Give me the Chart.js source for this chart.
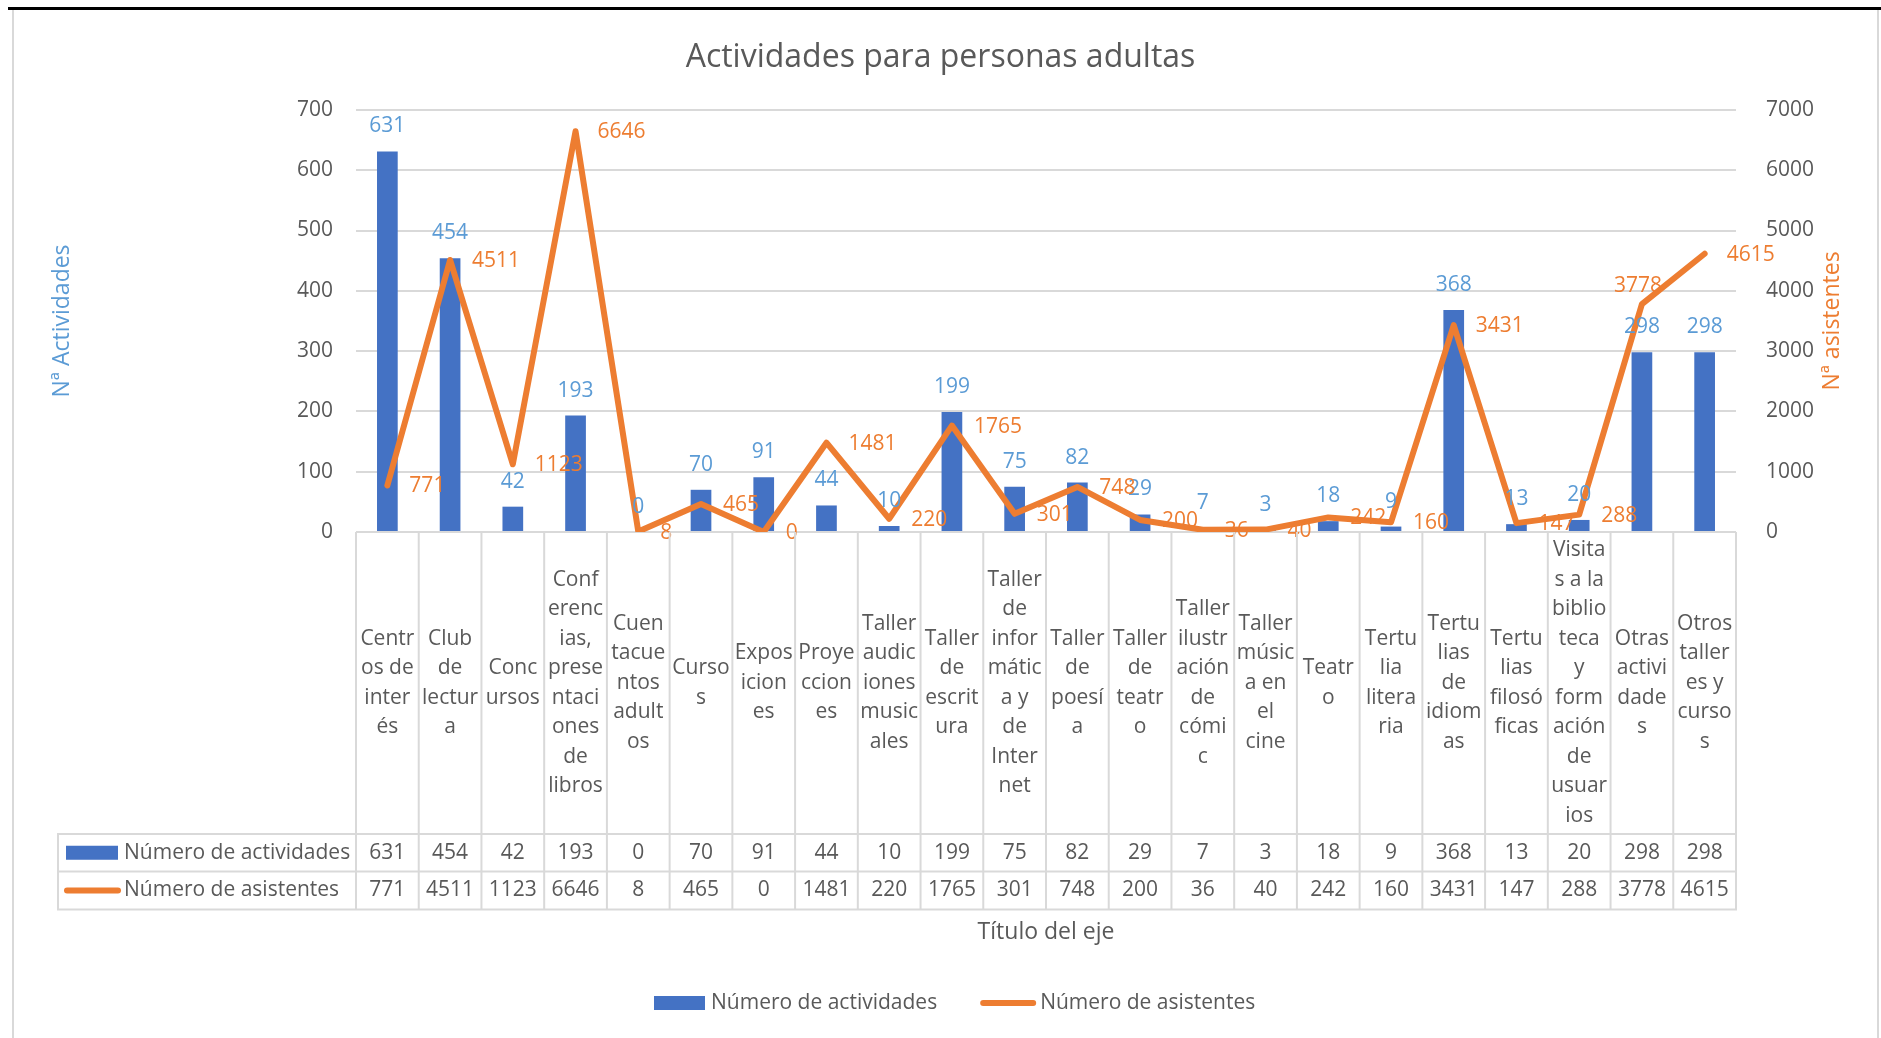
<!DOCTYPE html>
<html lang="es">
<head>
<meta charset="utf-8">
<title>Actividades para personas adultas</title>
<script src="https://cdn.jsdelivr.net/npm/chart.js@4.4.1/dist/chart.umd.min.js"></script>
<style>
  html, body { margin: 0; padding: 0; background: #fff; }
  #wrap { position: relative; width: 1881px; height: 1038px; }
</style>
</head>
<body>
<div id="wrap"><canvas id="chart"></canvas></div>
<script>
// Categories as wrapped in the data table of the original
const categoryLines = [
  ['Centr', 'os de', 'inter', 'és'],
  ['Club', 'de', 'lectur', 'a'],
  ['Conc', 'ursos'],
  ['Conf', 'erenc', 'ias,', 'prese', 'ntaci', 'ones', 'de', 'libros'],
  ['Cuen', 'tacue', 'ntos', 'adult', 'os'],
  ['Curso', 's'],
  ['Expos', 'icion', 'es'],
  ['Proye', 'ccion', 'es'],
  ['Taller', 'audic', 'iones', 'music', 'ales'],
  ['Taller', 'de', 'escrit', 'ura'],
  ['Taller', 'de', 'infor', 'mátic', 'a y', 'de', 'Inter', 'net'],
  ['Taller', 'de', 'poesí', 'a'],
  ['Taller', 'de', 'teatr', 'o'],
  ['Taller', 'ilustr', 'ación', 'de', 'cómi', 'c'],
  ['Taller', 'músic', 'a en', 'el', 'cine'],
  ['Teatr', 'o'],
  ['Tertu', 'lia', 'litera', 'ria'],
  ['Tertu', 'lias', 'de', 'idiom', 'as'],
  ['Tertu', 'lias', 'filosó', 'ficas'],
  ['Visita', 's a la', 'biblio', 'teca', 'y', 'form', 'ación', 'de', 'usuar', 'ios'],
  ['Otras', 'activi', 'dade', 's'],
  ['Otros', 'taller', 'es y', 'curso', 's']
];

const seriesNames = ['Número de actividades', 'Número de asistentes'];

const actividades = [631, 454, 42, 193, 0, 70, 91, 44, 10, 199, 75, 82, 29, 7, 3, 18, 9, 368, 13, 20, 298, 298];
const asistentes = [771, 4511, 1123, 6646, 8, 465, 0, 1481, 220, 1765, 301, 748, 200, 36, 40, 242, 160, 3431, 147, 288, 3778, 4615];

const leftTicks = [0, 100, 200, 300, 400, 500, 600, 700];
const rightTicks = [0, 1000, 2000, 3000, 4000, 5000, 6000, 7000];

const FONT = '"Open Sans", sans-serif';
const TEXT = '#595959';
const GRID = '#D9D9D9';
const BLUE = '#4472C4';
const BLUE_LABEL = '#5B9BD5';
const ORANGE = '#ED7D31';

// Excel moved this one label above the point instead of to the right
const lineLabelMoved = { 20: { dx: -4, dy: -18 } };

const framePlugin = {
  id: 'frame',
  beforeDraw(chart) {
    const { ctx, width, height } = chart;
    ctx.save();
    ctx.fillStyle = '#fff';
    ctx.fillRect(0, 0, width, height);
    ctx.fillStyle = '#000';
    ctx.fillRect(8, 7, width - 8, 3);
    ctx.fillStyle = GRID;
    ctx.fillRect(12, 10, 2, height - 10);
    ctx.fillRect(1877, 10, 2, height - 10);
    ctx.restore();
  }
};

const labelsPlugin = {
  id: 'valueLabels',
  afterDatasetsDraw(chart) {
    const { ctx } = chart;
    ctx.save();
    ctx.font = '21px ' + FONT;
    ctx.textBaseline = 'middle';

    ctx.fillStyle = BLUE_LABEL;
    ctx.textAlign = 'center';
    chart.getDatasetMeta(0).data.forEach((bar, i) => {
      ctx.fillText(String(chart.data.datasets[0].data[i]), bar.x, bar.y - 25);
    });

    ctx.fillStyle = ORANGE;
    chart.getDatasetMeta(1).data.forEach((pt, i) => {
      const txt = String(chart.data.datasets[1].data[i]);
      const moved = lineLabelMoved[i];
      if (moved) {
        ctx.textAlign = 'center';
        ctx.fillText(txt, pt.x + moved.dx, pt.y + moved.dy);
      } else {
        ctx.textAlign = 'left';
        ctx.fillText(txt, pt.x + 22, pt.y + 1);
      }
    });
    ctx.restore();
  }
};

const tablePlugin = {
  id: 'dataTable',
  afterDraw(chart) {
    const { ctx, chartArea } = chart;
    const x = chart.scales.x;
    const n = chart.data.labels.length;
    const step = x.getPixelForValue(1) - x.getPixelForValue(0);
    const colLeft = x.getPixelForValue(0) - step / 2;
    const colRight = x.getPixelForValue(n - 1) + step / 2;
    const top = chartArea.bottom;
    const catBottom = top + 302;
    const r1 = catBottom + 37.5;
    const r2 = r1 + 38;
    const tableLeft = 58;

    ctx.save();
    ctx.strokeStyle = GRID;
    ctx.lineWidth = 2;
    ctx.beginPath();
    for (let i = 0; i <= n; i++) {
      const xx = colLeft + i * step;
      ctx.moveTo(xx, top);
      ctx.lineTo(xx, r2);
    }
    ctx.moveTo(tableLeft, catBottom);
    ctx.lineTo(tableLeft, r2);
    [catBottom, r1, r2].forEach(yy => {
      ctx.moveTo(tableLeft - 1, yy);
      ctx.lineTo(colRight + 1, yy);
    });
    ctx.stroke();

    // category labels
    ctx.font = '21px ' + FONT;
    ctx.fillStyle = TEXT;
    ctx.textAlign = 'center';
    ctx.textBaseline = 'middle';
    const lh = 29.5;
    const mid = (top + catBottom) / 2;
    chart.data.labels.forEach((lines, i) => {
      const cx = x.getPixelForValue(i);
      const y0 = mid - (lines.length - 1) * lh / 2;
      lines.forEach((ln, k) => ctx.fillText(ln, cx, y0 + k * lh));
    });

    // values
    const y1 = (catBottom + r1) / 2;
    const y2 = (r1 + r2) / 2;
    chart.data.datasets[0].data.forEach((v, i) => ctx.fillText(String(v), x.getPixelForValue(i), y1));
    chart.data.datasets[1].data.forEach((v, i) => ctx.fillText(String(v), x.getPixelForValue(i), y2));

    // row headers with keys
    ctx.textAlign = 'left';
    ctx.fillStyle = BLUE;
    ctx.fillRect(66, y1 - 7, 52, 14);
    ctx.strokeStyle = ORANGE;
    ctx.lineWidth = 6;
    ctx.lineCap = 'round';
    ctx.beginPath();
    ctx.moveTo(67, y2);
    ctx.lineTo(118, y2);
    ctx.stroke();
    ctx.fillStyle = TEXT;
    ctx.fillText(seriesNames[0], 124, y1);
    ctx.fillText(seriesNames[1], 124, y2);

    // x axis title
    ctx.font = '23px ' + FONT;
    ctx.textAlign = 'center';
    ctx.fillText('Título del eje', (chartArea.left + chartArea.right) / 2, 932);

    // right axis title, reading upward like the original
    const y1s = chart.scales.y1;
    ctx.save();
    ctx.translate(y1s.right - 49, (chartArea.top + chartArea.bottom) / 2);
    ctx.rotate(-Math.PI / 2);
    ctx.fillStyle = ORANGE;
    ctx.fillText('Nª asistentes', 0, 0);
    ctx.restore();

    // legend at the bottom
    const ly = 1003;
    let lx = 654;
    ctx.font = '21px ' + FONT;
    ctx.textAlign = 'left';
    ctx.fillStyle = BLUE;
    ctx.fillRect(lx, ly - 7, 51, 14);
    lx += 57;
    ctx.fillStyle = TEXT;
    ctx.fillText(seriesNames[0], lx, ly);
    lx += ctx.measureText(seriesNames[0]).width + 46;
    ctx.strokeStyle = ORANGE;
    ctx.lineWidth = 6;
    ctx.beginPath();
    ctx.moveTo(lx, ly);
    ctx.lineTo(lx + 50, ly);
    ctx.stroke();
    lx += 57;
    ctx.fillText(seriesNames[1], lx, ly);
    ctx.restore();
  }
};

new Chart(document.getElementById('chart'), {
  type: 'bar',
  data: {
    labels: categoryLines,
    datasets: [{
        type: 'bar',
        label: seriesNames[0],
        data: actividades,
        yAxisID: 'y',
        backgroundColor: BLUE,
        categoryPercentage: 1,
        barPercentage: 0.33,
        order: 1
      },
      {
        type: 'line',
        label: seriesNames[1],
        data: asistentes,
        yAxisID: 'y1',
        borderColor: ORANGE,
        backgroundColor: ORANGE,
        borderWidth: 6,
        pointRadius: 0,
        pointHoverRadius: 0,
        tension: 0,
        borderJoinStyle: 'round',
        borderCapStyle: 'round',
        fill: false,
        order: 0
      }
    ]
  },
  options: {
    responsive: true,
    maintainAspectRatio: false,
    animation: false,
    layout: {
      padding: 0
    },
    plugins: {
      legend: {
        display: false
      }, // drawn by hand below the table
      tooltip: {
        enabled: false
      },
      title: {
        display: true,
        text: 'Actividades para personas adultas',
        color: TEXT,
        font: {
          family: FONT,
          size: 32,
          weight: 'normal'
        },
        padding: {
          top: 38.5,
          bottom: 33
        }
      }
    },
    scales: {
      x: {
        ticks: {
          display: false
        },
        grid: {
          display: false
        },
        border: {
          display: false
        },
        afterFit: (s) => { s.height = 506; } // room for the data table
      },
      y: {
        position: 'left',
        min: 0,
        max: 700,
        afterBuildTicks: (s) => { s.ticks = leftTicks.map(v => ({ value: v })); },
        ticks: {
          padding: 23,
          color: TEXT,
          font: {
            family: FONT,
            size: 21
          },
          callback: (v) => String(v)
        },
        grid: {
          color: GRID,
          lineWidth: 2,
          drawTicks: false
        },
        border: {
          display: false
        },
        title: {
          display: true,
          text: 'Nª Actividades',
          color: BLUE_LABEL,
          font: {
            family: FONT,
            size: 23
          },
          padding: {
            top: 49
          }
        },
        afterFit: (s) => { s.width = 356; }
      },
      y1: {
        position: 'right',
        min: 0,
        max: 7000,
        afterBuildTicks: (s) => { s.ticks = rightTicks.map(v => ({ value: v })); },
        ticks: {
          padding: 22,
          color: TEXT,
          font: {
            family: FONT,
            size: 21
          },
          callback: (v) => String(v) // no thousands separator
        },
        grid: {
          display: false
        },
        border: {
          display: false
        },
        afterFit: (s) => { s.width = 145; }
      }
    }
  },
  plugins: [framePlugin, labelsPlugin, tablePlugin]
});
</script>
</body>
</html>
